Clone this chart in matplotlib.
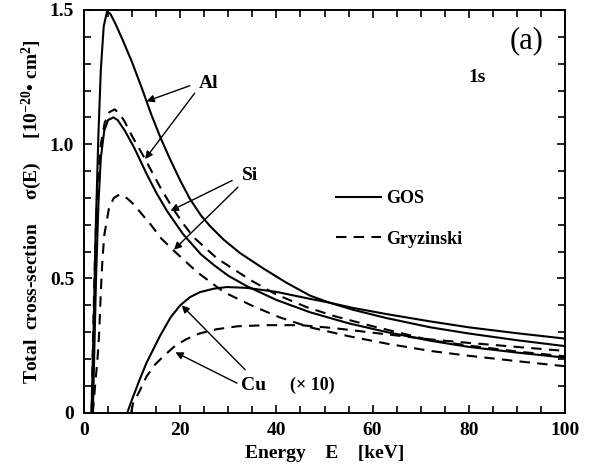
import matplotlib
matplotlib.use("Agg")
import matplotlib.pyplot as plt
from matplotlib.ticker import MultipleLocator, FixedLocator, FixedFormatter

plt.rcParams["font.family"] = ["Liberation Serif", "DejaVu Serif"]
plt.rcParams["mathtext.fontset"] = "custom"
plt.rcParams["mathtext.rm"] = "Liberation Serif:bold"
plt.rcParams["mathtext.it"] = "Liberation Serif:bold"
plt.rcParams["mathtext.bf"] = "Liberation Serif:bold"

# values (sigma in 1e-20 cm^2, Cu already x10)
al_gos_e = [1.56, 1.8, 2.0, 2.4, 3.0, 3.5, 4.1, 4.8, 5.5, 6.5, 8.0, 10.0, 12.0, 14.0,
            16.0, 18.0, 20.0, 22.0, 24.3, 26.2, 29.0, 32.4, 37.3, 42.0, 47.0, 51.0, 56.0,
            63.0, 72.0, 80.0, 90.0, 100.0]
al_gos = [0.0, 0.18, 0.32, 0.66, 1.04, 1.28, 1.44, 1.495, 1.485, 1.45, 1.39, 1.305, 1.21,
          1.11, 1.02, 0.94, 0.865, 0.797, 0.735, 0.695, 0.645, 0.595, 0.537, 0.485, 0.436,
          0.41, 0.383, 0.352, 0.318, 0.295, 0.27, 0.248]

al_gry_e = [1.56, 1.9, 2.3, 2.8, 3.5, 4.3, 5.3, 6.4, 7.5, 8.3, 10.0, 12.5, 15.9, 18.5,
            20.8, 22.7, 27.7, 34.7, 40.0, 46.3, 52.0, 60.0, 72.0, 80.0, 90.0, 100.0]
al_gry = [0.0, 0.3, 0.6, 0.85, 1.0, 1.08, 1.12, 1.13, 1.11, 1.089, 1.03, 0.951, 0.838,
          0.76, 0.70, 0.655, 0.574, 0.493, 0.44, 0.393, 0.36, 0.322, 0.27, 0.25, 0.228, 0.21]

si_gos_e = [1.84, 2.1, 2.5, 3.0, 3.5, 4.2, 5.0, 6.1, 7.0, 8.5, 10.4, 13.0, 15.0, 17.3,
            20.6, 24.3, 27.0, 30.0, 34.0, 40.0, 47.0, 55.0, 63.0, 72.0, 80.0, 90.0, 100.0]
si_gos = [0.0, 0.2, 0.5, 0.78, 0.95, 1.05, 1.09, 1.10, 1.09, 1.05, 0.988, 0.89, 0.82, 0.75,
          0.665, 0.59, 0.55, 0.51, 0.47, 0.42, 0.374, 0.333, 0.30, 0.268, 0.245, 0.224,
          0.205]

si_gry_e = [1.84, 2.3, 2.8, 3.1, 3.5, 3.8, 4.2, 5.2, 6.2, 7.4, 9.0, 10.4, 12.0, 13.9,
            16.0, 18.7, 23.5, 29.1, 35.0, 40.7, 47.0, 55.0, 63.0, 72.0, 80.0, 90.0, 100.0]
si_gry = [0.0, 0.1, 0.2, 0.28, 0.45, 0.56, 0.66, 0.763, 0.80, 0.813, 0.798, 0.775, 0.74,
          0.70, 0.65, 0.603, 0.524, 0.449, 0.398, 0.355, 0.318, 0.285, 0.257, 0.23, 0.212,
          0.192, 0.173]

cu_gos_e = [9.0, 10.0, 11.5, 13.0, 15.8, 18.0, 20.0, 22.0, 24.1, 27.0, 29.7, 33.8, 40.0,
            47.0, 51.0, 56.0, 63.0, 72.0, 80.0, 90.0, 100.0]
cu_gos = [0.0, 0.05, 0.12, 0.186, 0.286, 0.355, 0.40, 0.43, 0.449, 0.462, 0.468, 0.465,
          0.45, 0.424, 0.41, 0.39, 0.367, 0.34, 0.318, 0.296, 0.276]

cu_gry_e = [9.8, 10.2, 11.4, 13.0, 14.8, 16.5, 19.0, 21.3, 24.0, 27.6, 32.0, 38.0, 45.0,
            52.0, 60.0, 72.0, 80.0, 90.0, 100.0]
cu_gry = [0.0, 0.035, 0.075, 0.135, 0.18, 0.21, 0.25, 0.274, 0.295, 0.311, 0.322, 0.326,
          0.326, 0.315, 0.298, 0.273, 0.26, 0.245, 0.23]

x_major = [0, 20, 40, 60, 80, 100]
y_major = [0, 0.5, 1.0, 1.5]
y_labels = ["0", "0.5", "1.0", "1.5"]

fig = plt.figure(figsize=(5.9, 4.65), dpi=100)
ax = fig.add_axes([0.1424, 0.1125, 0.8152, 0.866])

lw = 1.5
dash = (5, 3.5)
for e, s in [(al_gos_e, al_gos), (si_gos_e, si_gos), (cu_gos_e, cu_gos)]:
    ax.plot(e, s, color="black", lw=lw, solid_capstyle="butt")
for e, s in [(al_gry_e, al_gry), (si_gry_e, si_gry), (cu_gry_e, cu_gry)]:
    ax.plot(e, s, color="black", lw=lw, dashes=dash)

ax.set_xlim(0, 100)
ax.set_ylim(0, 1.5)
ax.xaxis.set_major_locator(FixedLocator(x_major))
ax.xaxis.set_minor_locator(MultipleLocator(5))
ax.yaxis.set_major_locator(FixedLocator(y_major))
ax.yaxis.set_major_formatter(FixedFormatter(y_labels))
ax.yaxis.set_minor_locator(MultipleLocator(0.1))
ax.tick_params(which="both", direction="in", top=True, right=True, width=1.2)
ax.tick_params(which="major", length=6, labelsize=14, pad=7)
ax.tick_params(which="minor", length=5)
for lab in ax.get_xticklabels() + ax.get_yticklabels():
    lab.set_fontweight("bold")
for sp in ax.spines.values():
    sp.set_linewidth(1.4)

ax.set_xlabel("Energy    E    [keV]", fontsize=14, fontweight="bold", labelpad=4)
ax.set_ylabel(r"Total  cross-section     σ(E)     [10$^{-20}$• cm$^{2}$]",
              fontsize=14, fontweight="bold", labelpad=4)

ax.text(92, 1.385, "(a)", fontsize=22, ha="center", va="center")
ax.text(81.7, 1.25, "1s", fontsize=14, fontweight="bold", ha="center", va="center")

arw = dict(arrowstyle="-|>", color="black", lw=1.0, mutation_scale=11, shrinkA=0, shrinkB=0)
ax.text(26.0, 1.225, "Al", fontsize=14, fontweight="bold", ha="center", va="center")
ax.annotate("", xy=(13.0, 1.16), xytext=(22.0, 1.218), arrowprops=arw)
ax.annotate("", xy=(12.7, 0.945), xytext=(23.0, 1.19), arrowprops=arw)
ax.text(34.5, 0.885, "Si", fontsize=14, fontweight="bold", ha="center", va="center")
ax.annotate("", xy=(18.0, 0.752), xytext=(30.8, 0.865), arrowprops=arw)
ax.annotate("", xy=(18.7, 0.607), xytext=(32.0, 0.84), arrowprops=arw)
ax.text(35.2, 0.10, "Cu", fontsize=14, fontweight="bold", ha="center", va="center")
ax.text(47.5, 0.10, "(× 10)", fontsize=13, fontweight="bold", ha="center", va="center")
ax.annotate("", xy=(20.3, 0.40), xytext=(33.5, 0.16), arrowprops=arw)
ax.annotate("", xy=(19.0, 0.225), xytext=(31.8, 0.11), arrowprops=arw)

ax.plot([], [], color="black", lw=lw, label="GOS")
ax.plot([], [], color="black", lw=lw, dashes=dash, label="Gryzinski")
ax.legend(loc="upper left", bbox_to_anchor=(0.505, 0.575), frameon=False, borderpad=0,
          handlelength=2.5, handletextpad=0.3, labelspacing=1.3,
          prop={"size": 13, "weight": "bold"})

fig.savefig("out.png", dpi=100)
